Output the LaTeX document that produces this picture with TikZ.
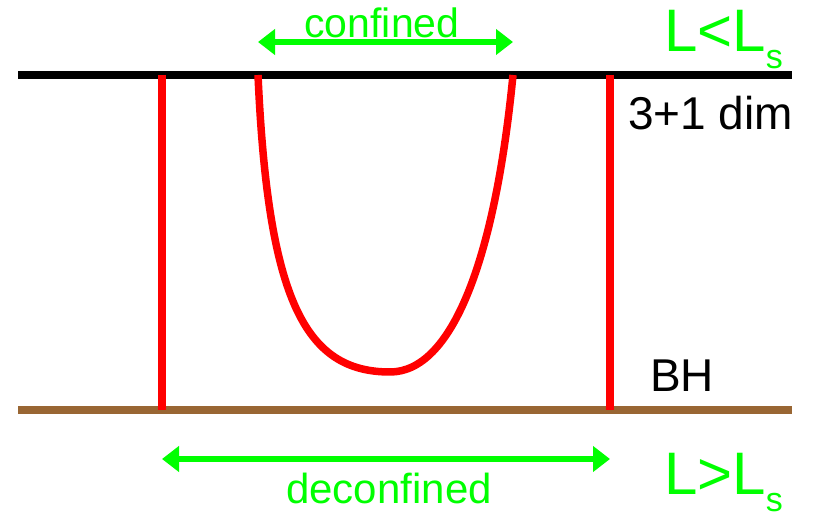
\documentclass[tikz,border=0pt]{standalone}
\usepackage{fontspec}
\setmainfont{Liberation Sans}
\usetikzlibrary{arrows.meta}
\definecolor{lgreen}{RGB}{0,255,0}
\definecolor{lred}{RGB}{255,0,0}
\definecolor{lbrown}{RGB}{153,102,51}
\begin{document}
\begin{tikzpicture}[x=1pt,y=-1pt,
  bound/.style={line width=8pt},
  wline/.style={lred,line width=7.5pt},
  garrow/.style={lgreen,line width=6.5pt,{Triangle[length=17pt,width=25pt]}-{Triangle[length=17pt,width=25pt]}},
  glabel/.style={lgreen,inner sep=0pt,font=\fontsize{41}{45}\selectfont},
  blabel/.style={black,inner sep=0pt,font=\fontsize{46}{50}\selectfont},
  llabel/.style={lgreen,inner sep=0pt,font=\fontsize{60}{64}\selectfont}]
\useasboundingbox (0,0) rectangle (823,518);
% boundaries
\coordinate (tl) at (18,75);
\coordinate (tr) at (792,75);
\coordinate (bl) at (18,410);
\coordinate (br) at (792,410);
\draw[bound,black] (tl) -- (tr);
\draw[bound,lbrown] (bl) -- (br);
% straight strings
\coordinate (s1t) at (162,75);
\coordinate (s1b) at (162,410);
\coordinate (s2t) at (610,75);
\coordinate (s2b) at (610,410);
\draw[wline] (s1t) -- (s1b);
\draw[wline] (s2t) -- (s2b);
% U-shaped string
\coordinate (ul) at (258,75);
\coordinate (um) at (390,372);
\coordinate (ur) at (513,75);
\draw[wline] (ul) .. controls (268,300) and (305,372) .. (um)
  .. controls (452,372) and (495,260) .. (ur);
% arrows
\coordinate (ca) at (258,42);
\coordinate (cb) at (513,42);
\draw[garrow] (ca) -- (cb);
\coordinate (da) at (162,459);
\coordinate (db) at (610,459);
\draw[garrow] (da) -- (db);
% labels
\node[glabel,anchor=base] (conf) at (382,38) {confined};
\node[glabel,anchor=base,font=\fontsize{42}{46}\selectfont] (deconf) at (389,504) {deconfined};
\node[llabel,anchor=base west] (lls) at (664,52) {L<L\raisebox{-17pt}{\fontsize{34}{36}\selectfont s}};
\node[llabel,anchor=base west] (lgs) at (664,495) {L>L\raisebox{-17pt}{\fontsize{34}{36}\selectfont s}};
\node[blabel,anchor=base west] (dim) at (628,130) {3+1 dim};
\node[blabel,anchor=base west] (bh) at (650,392) {BH};
\end{tikzpicture}
\end{document}
